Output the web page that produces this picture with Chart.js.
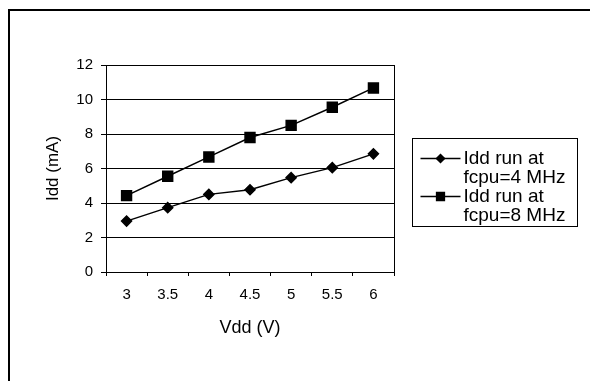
<!DOCTYPE html>
<html><head><meta charset="utf-8">
<script src="https://cdn.jsdelivr.net/npm/chart.js@4/dist/chart.umd.min.js"></script>
<style>html,body{margin:0;padding:0;background:#fff;overflow:hidden}#wrap{width:590px;height:381px;position:relative}</style>
</head><body><div id="wrap"><canvas id="c" width="590" height="381"></canvas></div>
<script>
const categories = ['3', '3.5', '4', '4.5', '5', '5.5', '6'];
const idd4MHz = [2.95, 3.73, 4.5, 4.77, 5.47, 6.05, 6.85];
const idd8MHz = [4.43, 5.55, 6.67, 7.8, 8.5, 9.55, 10.67];
const yTickValues = [0, 2, 4, 6, 8, 10, 12];
const label4MHz = ['Idd run at', 'fcpu=4 MHz'];
const label8MHz = ['Idd run at', 'fcpu=8 MHz'];
const xTitle = 'Vdd (V)';
const yTitle = 'Idd (mA)';

const FONT = '"Liberation Sans", Arial, Helvetica, sans-serif';

const framePlugin = {
  id: 'frame',
  afterDraw(chart) {
    const ctx = chart.ctx, a = chart.chartArea;
    ctx.save();
    ctx.strokeStyle = '#000';
    ctx.lineWidth = 1;
    ctx.beginPath();
    ctx.moveTo(Math.round(a.right) + 0.5, a.top);
    ctx.lineTo(Math.round(a.right) + 0.5, a.bottom);
    ctx.stroke();
    ctx.lineWidth = 2;
    ctx.beginPath();
    ctx.moveTo(9, chart.height);
    ctx.lineTo(9, 10);
    ctx.lineTo(chart.width, 10);
    ctx.stroke();
    ctx.restore();
  }
};

const legendPlugin = {
  id: 'boxLegend',
  afterDraw(chart) {
    const ctx = chart.ctx, a = chart.chartArea;
    const bx = Math.round(a.right) + 18.5, by = Math.round(a.top) + 73.5;
    const bw = 165, bh = 88;
    ctx.save();
    ctx.fillStyle = '#fff';
    ctx.fillRect(bx, by, bw, bh);
    ctx.strokeStyle = '#000';
    ctx.lineWidth = 1;
    ctx.strokeRect(bx, by, bw, bh);
    ctx.font = '19px ' + FONT;
    ctx.textBaseline = 'middle';
    ctx.textAlign = 'left';
    ctx.fillStyle = '#000';
    const lh = 19;
    chart.data.datasets.forEach((ds, i) => {
      const y0 = by + 20 + i * 2 * lh;
      const lx1 = bx + 8, lx2 = bx + 48, mx = (lx1 + lx2) / 2;
      ctx.strokeStyle = '#000';
      ctx.lineWidth = 1.5;
      ctx.beginPath();
      ctx.moveTo(lx1, y0);
      ctx.lineTo(lx2, y0);
      ctx.stroke();
      Chart.helpers.drawPoint(ctx, {pointStyle: ds.pointStyle, radius: ds.legendRadius, borderWidth: 1}, mx, y0);
      ctx.fillStyle = '#000';
      ctx.fill();
      ds.legendLines.forEach((t, j) => ctx.fillText(t, bx + 51, y0 + j * lh));
    });
    ctx.restore();
  }
};

new Chart(document.getElementById('c'), {
  type: 'line',
  data: {
    labels: categories,
    datasets: [
      {label: label4MHz.join(' '), legendLines: label4MHz, legendRadius: 4, data: idd4MHz, borderColor: '#000', backgroundColor: '#000', borderWidth: 1.5,
       pointStyle: 'rectRot', pointRadius: 5, pointHoverRadius: 5, pointBackgroundColor: '#000', pointBorderColor: '#000', tension: 0},
      {label: label8MHz.join(' '), legendLines: label8MHz, legendRadius: 5.5, data: idd8MHz, borderColor: '#000', backgroundColor: '#000', borderWidth: 1.5,
       pointStyle: 'rect', pointRadius: 7, pointHoverRadius: 7, pointBackgroundColor: '#000', pointBorderColor: '#000', tension: 0}
    ]
  },
  options: {
    responsive: false,
    animation: false,
    events: [],
    layout: {padding: {left: 0, top: 65, right: 196, bottom: 0}},
    plugins: {legend: {display: false}, tooltip: {enabled: false}, title: {display: false}},
    scales: {
      x: {
        type: 'category',
        offset: true,
        grid: {display: true, offset: true, drawOnChartArea: false, color: '#000', tickLength: 4, tickColor: '#000'},
        border: {display: true, color: '#000', width: 1},
        ticks: {color: '#000', font: {family: FONT, size: 15}, padding: 10, maxRotation: 0, autoSkip: false},
        title: {display: true, text: xTitle, color: '#000', font: {family: FONT, size: 18}, padding: {top: 0, bottom: 42}},
        afterFit(scale) { scale.height = 109; }
      },
      y: {
        min: 0, max: 12,
        afterBuildTicks(scale) { scale.ticks = yTickValues.map(v => ({value: v})); },
        grid: {color: '#000', tickLength: 5, tickColor: '#000', lineWidth: 1},
        border: {display: true, color: '#000', width: 1},
        ticks: {color: '#000', font: {family: FONT, size: 15}, padding: 8},
        title: {display: true, text: yTitle, color: '#000', font: {family: FONT, size: 17}, padding: {top: 43, bottom: 0}},
        afterFit(scale) { scale.width = 106; }
      }
    }
  },
  plugins: [framePlugin, legendPlugin]
});
</script>
</body></html>
